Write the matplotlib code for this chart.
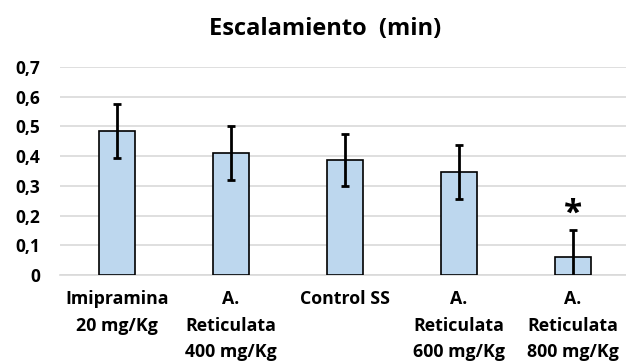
import matplotlib.pyplot as plt
import numpy as np

# Data
groups = ['Imipramina\n20 mg/Kg', 'A.\nReticulata\n400 mg/Kg', 'Control SS',
          'A.\nReticulata\n600 mg/Kg', 'A.\nReticulata\n800 mg/Kg']
means = [0.485, 0.411, 0.386, 0.348, 0.061]
errors = [0.091, 0.091, 0.088, 0.091, 0.091]
significant = [False, False, False, False, True]
yticks = [0, 0.1, 0.2, 0.3, 0.4, 0.5, 0.6, 0.7]
ytick_labels = ['0', '0,1', '0,2', '0,3', '0,4', '0,5', '0,6', '0,7']

plt.rcParams['font.family'] = ['Open Sans', 'DejaVu Sans']
plt.rcParams['font.weight'] = 'bold'

fig = plt.figure(figsize=(6.26, 3.64), dpi=100)
ax = fig.add_axes([60 / 626, 1 - 275 / 364, 1 - 60 / 626, 208 / 364])

x = np.arange(len(groups))
ax.bar(x, means, width=0.316, color='#bdd7ee', edgecolor='black',
       linewidth=1.2, zorder=3)
ax.errorbar(x, means, yerr=errors, fmt='none', ecolor='black',
            elinewidth=2, capsize=3, capthick=2, zorder=4)

# significance marker
for i, flag in enumerate(significant):
    if flag:
        ax.text(x[i], means[i] + errors[i] - 0.002, '*', ha='center',
                va='bottom', fontsize=24, fontweight='bold')

ax.set_xlim(-0.5, 4.465)
ax.set_ylim(0, 0.7)
ax.set_yticks(yticks)
ax.set_yticklabels(ytick_labels)
ax.set_xticks(x)
ax.set_xticklabels(groups, fontsize=12.75, fontweight='bold', va='top',
                   linespacing=1.6)
ax.tick_params(axis='y', length=0, pad=14, labelsize=12.5)
ax.tick_params(axis='x', length=0, pad=11)

ax.grid(axis='y', color='#d9d9d9', linewidth=1.2, zorder=0)
for side in ['top', 'right', 'left']:
    ax.spines[side].set_visible(False)
ax.spines['bottom'].set_color('#d9d9d9')
ax.spines['bottom'].set_linewidth(1.2)

fig.text(325 / 626, 1 - 35 / 364, 'Escalamiento  (min)', ha='center',
         va='baseline', fontsize=17, fontweight='bold')

fig.savefig('out.png', dpi=100)
